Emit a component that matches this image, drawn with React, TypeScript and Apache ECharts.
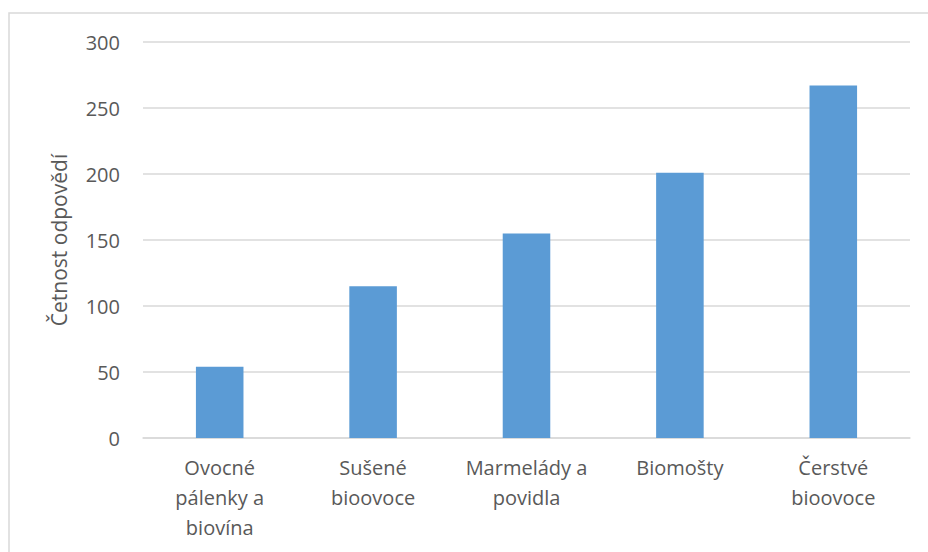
import React, { useEffect, useRef } from "react";
import * as echarts from "echarts";

const categories = [
  "Ovocné\npálenky a\nbiovína",
  "Sušené\nbioovoce",
  "Marmelády a\npovidla",
  "Biomošty",
  "Čerstvé\nbioovoce",
];
const values = [54, 115, 155, 201, 267];
const yAxisName = "Četnost odpovědí";

export default function App() {
  const ref = useRef<HTMLDivElement>(null);
  useEffect(() => {
    if (!ref.current) return;
    const chart = echarts.init(ref.current, null, { renderer: "svg" });
    const font = "'Open Sans', 'Liberation Sans', sans-serif";
    chart.setOption({
      animation: false,
      backgroundColor: "#ffffff",
      textStyle: { fontFamily: font },
      graphic: [
        {
          type: "rect",
          shape: { x: 9, y: 13, width: 1000, height: 1000 },
          style: { fill: "none", stroke: "#D9D9D9", lineWidth: 1.5 },
          silent: true,
        },
      ],
      grid: { left: 143, right: 18, top: 42, bottom: 114 },
      xAxis: {
        type: "category",
        data: categories,
        axisLine: { show: true, lineStyle: { color: "#D9D9D9", width: 1.5 } },
        axisTick: { show: false },
        axisLabel: {
          color: "#595959",
          fontSize: 20,
          fontFamily: font,
          lineHeight: 30,
          margin: 14,
          interval: 0,
        },
      },
      yAxis: {
        type: "value",
        min: 0,
        max: 300,
        interval: 50,
        name: yAxisName,
        nameLocation: "middle",
        nameGap: 74,
        nameTextStyle: { color: "#595959", fontSize: 21, fontFamily: font },
        axisLine: { show: false },
        axisTick: { show: false },
        axisLabel: { color: "#595959", fontSize: 20, fontFamily: font, margin: 23 },
        splitLine: { lineStyle: { color: "#D9D9D9", width: 1.5 } },
      },
      series: [
        {
          type: "bar",
          data: values,
          barWidth: "31%",
          itemStyle: { color: "#5B9BD5" },
        },
      ],
    });
    return () => chart.dispose();
  }, []);
  return (
    <div
      ref={ref}
      style={{ position: "fixed", left: 0, top: 0, width: 928, height: 552 }}
    />
  );
}
